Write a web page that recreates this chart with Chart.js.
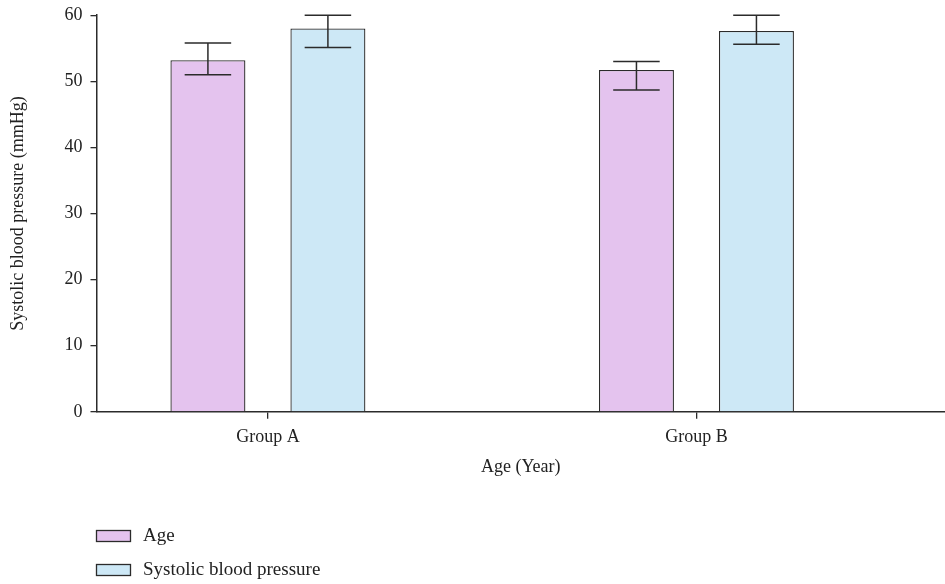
<!DOCTYPE html>
<html>
<head>
<meta charset="utf-8">
<script src="https://cdn.jsdelivr.net/npm/chart.js@4/dist/chart.umd.min.js"></script>
<style>
    html, body { margin: 0; padding: 0; background: #fff; }
    #wrap { width: 945px; height: 584px; position: relative; }
</style>
</head>
<body>
<div id="wrap"><canvas id="chart"></canvas></div>
<script>
// --- Data ---
const categories = ['Group A', 'Group B'];
const categoryPos = [1, 2];           // where each group sits on the x scale
const seriesNames = ['Age', 'Systolic blood pressure'];

const ageMean = [53.2, 51.7];
const ageLow = [51.0, 48.7];
const ageHigh = [55.8, 53.0];

const sbpMean = [58.0, 57.6];
const sbpLow = [55.1, 55.6];
const sbpHigh = [60.0, 60.0];

const yTicks = [0, 10, 20, 30, 40, 50, 60];

// --- Styling ---
const FONT = "'Liberation Serif', 'DejaVu Serif', serif";
const INK = '#2b2b2b';
const fills = ['#e4c3ee', '#cde8f6'];

const errors = [
    { low: ageLow, high: ageHigh },
    { low: sbpLow, high: sbpHigh }
];

// error bars drawn on top of the bars
const errorBarPlugin = {
    id: 'errorBars',
    afterDatasetsDraw(chart) {
        const ctx = chart.ctx;
        const yScale = chart.scales.y;
        ctx.save();
        ctx.strokeStyle = INK;
        ctx.lineWidth = 1.5;
        chart.data.datasets.forEach((ds, i) => {
            const meta = chart.getDatasetMeta(i);
            meta.data.forEach((bar, j) => {
                const yLo = yScale.getPixelForValue(errors[i].low[j]);
                const yHi = yScale.getPixelForValue(errors[i].high[j]);
                const half = bar.width * 0.31;
                ctx.beginPath();
                ctx.moveTo(bar.x, yLo);
                ctx.lineTo(bar.x, yHi);
                ctx.moveTo(bar.x - half, yLo);
                ctx.lineTo(bar.x + half, yLo);
                ctx.moveTo(bar.x - half, yHi);
                ctx.lineTo(bar.x + half, yHi);
                ctx.stroke();
            });
        });
        ctx.restore();
    }
};

// stacked legend at the bottom left
const stackedLegend = {
    id: 'stackedLegend',
    afterDraw(chart) {
        const ctx = chart.ctx;
        ctx.save();
        ctx.font = '19px ' + FONT;
        ctx.textBaseline = 'middle';
        chart.data.datasets.forEach((ds, i) => {
            const y = 536 + i * 34;
            ctx.fillStyle = ds.backgroundColor;
            ctx.fillRect(96.5, y - 5.5, 34, 11);
            ctx.strokeStyle = INK;
            ctx.lineWidth = 1.3;
            ctx.strokeRect(96.5, y - 5.5, 34, 11);
            ctx.fillStyle = '#222';
            ctx.fillText(ds.label, 143, y);
        });
        ctx.restore();
    }
};

const toPoints = arr => arr.map((v, i) => ({ x: categoryPos[i], y: v }));

new Chart(document.getElementById('chart'), {
    type: 'bar',
    data: {
        datasets: [
            {
                label: seriesNames[0],
                data: toPoints(ageMean),
                backgroundColor: fills[0],
                borderColor: INK,
                borderWidth: 1.3
            },
            {
                label: seriesNames[1],
                data: toPoints(sbpMean),
                backgroundColor: fills[1],
                borderColor: INK,
                borderWidth: 1.3
            }
        ]
    },
    options: {
        responsive: true,
        maintainAspectRatio: false,
        animation: false,
        categoryPercentage: 0.56,
        barPercentage: 0.625,
        layout: { padding: { top: 0, right: 0, bottom: 106, left: 0 } },
        plugins: {
            legend: { display: false },
            tooltip: { enabled: false }
        },
        scales: {
            x: {
                type: 'linear',
                offset: false,
                min: 0.6,
                max: 2.58,
                afterBuildTicks(scale) {
                    scale.ticks = categoryPos.map(v => ({ value: v }));
                },
                ticks: {
                    autoSkip: false,
                    maxRotation: 0,
                    padding: 8,
                    color: '#222',
                    font: { family: FONT, size: 18 },
                    callback: (v) => categories[categoryPos.indexOf(v)]
                },
                grid: { offset: false, drawOnChartArea: false, drawTicks: true, tickLength: 7, color: INK, lineWidth: 1.3 },
                border: { display: true, color: INK, width: 1.5 },
                title: {
                    display: true,
                    text: 'Age (Year)',
                    color: '#222',
                    font: { family: FONT, size: 18 },
                    padding: { top: 0, bottom: 0 }
                }
            },
            y: {
                min: 0,
                max: 60,
                afterBuildTicks(scale) {
                    scale.ticks = yTicks.map(v => ({ value: v }));
                },
                afterFit(scale) {
                    scale.width = 96.5;
                },
                ticks: {
                    padding: 8,
                    color: '#222',
                    font: { family: FONT, size: 18, lineHeight: 0.8 }
                },
                grid: { drawOnChartArea: false, drawTicks: true, tickLength: 6, color: INK, lineWidth: 1.3 },
                border: { display: true, color: INK, width: 1.5 },
                title: {
                    display: true,
                    text: 'Systolic blood pressure (mmHg)',
                    color: '#222',
                    font: { family: FONT, size: 18 },
                    padding: { top: 7, bottom: 0 }
                }
            }
        }
    },
    plugins: [errorBarPlugin, stackedLegend]
});
</script>
</body>
</html>
